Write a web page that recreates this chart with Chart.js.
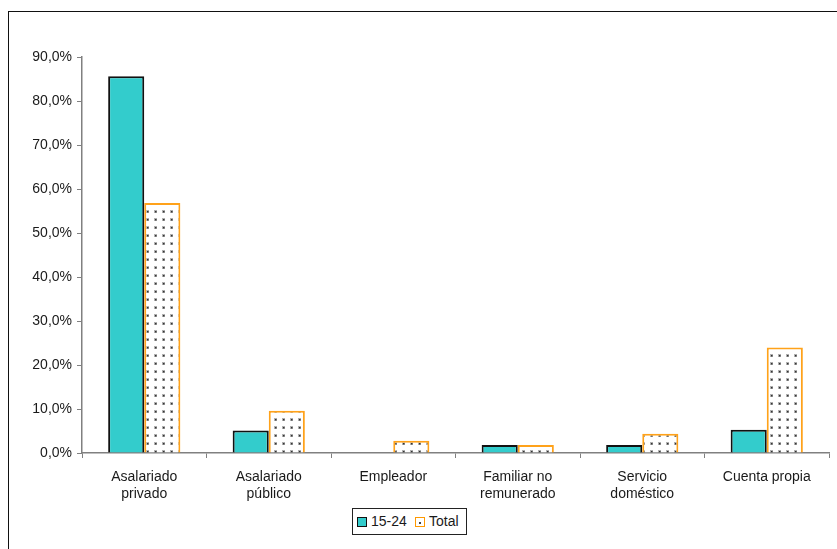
<!DOCTYPE html>
<html>
<head>
<meta charset="utf-8">
<script src="https://cdn.jsdelivr.net/npm/chart.js@4.4.0/dist/chart.umd.min.js"></script>
<style>
body{margin:0;background:#fff;font-family:"Liberation Sans",Arial,sans-serif;}
#wrap{position:relative;width:837px;height:549px;overflow:hidden;}
#frame{position:absolute;left:8px;top:11px;width:900px;height:600px;border-left:1.5px solid #111;border-top:1.5px solid #111;}
canvas{position:absolute;left:0;top:0;}
#legend{position:absolute;left:352px;top:508px;width:113px;height:25px;border:1px solid #222;background:#fff;font-size:14px;color:#1a1a1a;}
#legend span{position:absolute;}
.sw{width:8px;height:8px;top:8px;}
.lt{top:4px;line-height:16px;}
</style>
</head>
<body>
<div id="wrap">
  <div id="frame"></div>
  <canvas id="chart" width="837" height="549"></canvas>
  <div id="legend">
    <span class="sw" style="left:4px;background:#33cccc;border:1px solid #111;"></span>
    <span class="lt" style="left:18px;">15-24</span>
    <span class="sw" style="left:62px;background:#fff;border:1px solid #ff9900;"><i style="position:absolute;left:3px;top:4px;width:2px;height:2px;background:#444;"></i></span>
    <span class="lt" style="left:76px;">Total</span>
  </div>
</div>
<script>
// ----- Data -----
const categories = [['Asalariado','privado'],['Asalariado','público'],'Empleador',['Familiar no','remunerado'],['Servicio','doméstico'],'Cuenta propia'];
const young = [85.6, 5.1, 0, 1.8, 1.8, 5.3];
const total = [56.8, 9.6, 2.8, 1.8, 4.4, 24.0];
const seriesNames = ['15-24','Total'];

// dotted fill for the Total bars
function dotPattern(){
    const c = document.createElement('canvas');
    c.width = 8; c.height = 8;
    const g = c.getContext('2d');
    g.fillStyle = '#fff';
    g.fillRect(0,0,8,8);
    g.fillStyle = '#b0b0b0';
    g.fillRect(2,2,3,3);
    g.fillStyle = '#333';
    g.fillRect(3,3,1.5,1.5);
    return g.createPattern(c,'repeat');
}

Chart.defaults.font.family = '"Liberation Sans", Arial, sans-serif';
Chart.defaults.color = '#1a1a1a';

const ctx = document.getElementById('chart').getContext('2d');
new Chart(ctx,{
    type:'bar',
    data:{
        labels:categories,
        datasets:[
            {label:seriesNames[0], data:young, backgroundColor:'#33cccc', borderColor:'#111', borderWidth:2},
            {label:seriesNames[1], data:total, backgroundColor:dotPattern(), borderColor:'#ffa21a', borderWidth:2}
        ]
    },
    options:{
        responsive:false,
        animation:false,
        layout:{padding:{top:57,right:8,left:0,bottom:0}},
        datasets:{bar:{barPercentage:1, categoryPercentage:0.58}},
        plugins:{legend:{display:false}, tooltip:{enabled:false}},
        scales:{
            x:{
                grid:{offset:true, drawOnChartArea:false, tickLength:5, color:'#808080'},
                border:{color:'#808080', width:1.5},
                ticks:{font:{size:14}, padding:11, maxRotation:0, autoSkip:false},
                afterFit:s=>{ s.height = 96; }
            },
            y:{
                min:0, max:90,
                grid:{drawOnChartArea:false, tickLength:5, color:'#808080'},
                border:{color:'#808080', width:1.5},
                ticks:{stepSize:10, font:{size:14}, padding:5, callback:v=>v.toFixed(1).replace('.',',')+'%'},
                afterFit:s=>{ s.width = 82; }
            }
        }
    }
});
</script>
</body>
</html>
